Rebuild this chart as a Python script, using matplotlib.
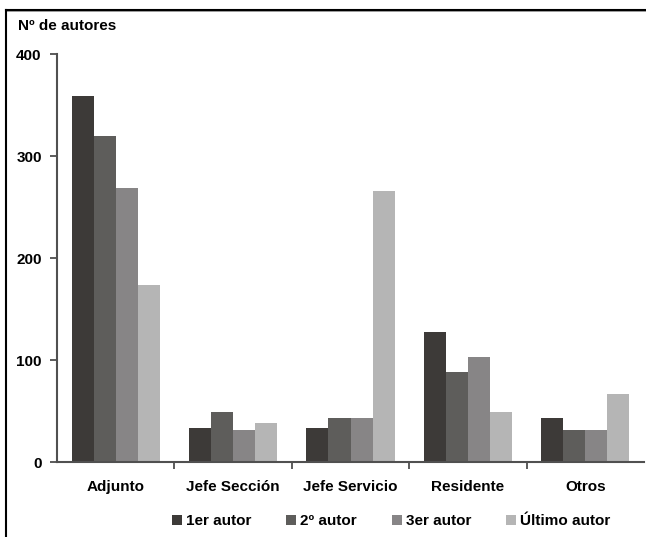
import matplotlib
matplotlib.use("Agg")
import matplotlib.pyplot as plt
import numpy as np
from matplotlib.lines import Line2D

categories = ["Adjunto", "Jefe Sección", "Jefe Servicio", "Residente", "Otros"]
series_names = ["1er autor", "2º autor", "3er autor", "Último autor"]
primer = [359, 33, 33, 127, 43]
segundo = [320, 49, 43, 88, 31]
tercero = [269, 31, 43, 103, 31]
ultimo = [174, 38, 266, 49, 67]
yticks = [0, 100, 200, 300, 400]

colors = ["#3d3a38", "#5e5d5b", "#878586", "#b5b5b5"]

plt.rcParams['font.family'] = ['Liberation Sans', 'DejaVu Sans']
plt.rcParams['font.weight'] = 'bold'

W, H = 646, 537
fig = plt.figure(figsize=(W/100, H/100), dpi=100)
ax = fig.add_axes([57/W, 1-462/H, (644-57)/W, (462-54)/H])

x = np.arange(len(categories))
w = 0.1875
for i, (vals, name) in enumerate(zip([primer, segundo, tercero, ultimo], series_names)):
    ax.bar(x + (i-1.5)*w, vals, width=w, color=colors[i], label=name, linewidth=0)

ax.set_xlim(-0.5, 4.5)
ax.set_ylim(0, 400)
ax.set_yticks(yticks)
ax.set_yticklabels([str(v) for v in yticks], fontsize=11, fontweight='bold')
ax.set_xticks(x)
ax.set_xticklabels(categories, fontsize=11, fontweight='bold')
ax.set_xticks(np.arange(0.5, 4.0, 1.0), minor=True)
ax.tick_params(axis='x', which='major', length=0, pad=13)
ax.tick_params(axis='x', which='minor', length=5, width=1.2, color='#404040', direction='out')
ax.tick_params(axis='y', which='major', length=5, width=1.2, color='#404040', direction='out', pad=6)

for s in ['top', 'right']:
    ax.spines[s].set_visible(False)
for s in ['left', 'bottom']:
    ax.spines[s].set_color('#505050')
    ax.spines[s].set_linewidth(1.5)

fig.text(18/W, 1-26/H, "Nº de autores", fontsize=11, fontweight='bold', va='center', ha='left')

leg = fig.legend(loc='center', bbox_to_anchor=(391/W, 1-521/H), ncol=4, frameon=False,
                 handlelength=0.65, handleheight=0.65, handletextpad=0.25,
                 columnspacing=2.3, prop={'weight': 'bold', 'size': 11})

# outer frame (top and left only)
fig.add_artist(Line2D([6/W, 1], [1-9.5/H, 1-9.5/H], transform=fig.transFigure, color='black', linewidth=1.5))
fig.add_artist(Line2D([6/W, 1], [1-11/H, 1-11/H], transform=fig.transFigure, color='#999999', linewidth=0.7))
fig.add_artist(Line2D([6/W, 6/W], [0, 1-9.5/H], transform=fig.transFigure, color='black', linewidth=1.5))

fig.savefig("out.png", dpi=100)
